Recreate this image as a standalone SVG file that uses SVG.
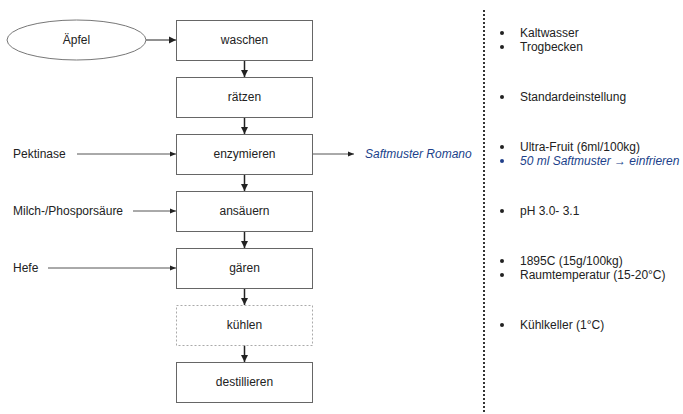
<svg xmlns="http://www.w3.org/2000/svg" width="683" height="414" viewBox="0 0 683 414">
<defs>
<style>
text{font-family:"Liberation Sans",Arial,sans-serif;font-size:12px;fill:#222}
.box{fill:#fff;stroke:#666;stroke-width:1}
.dbox{fill:#fff;stroke:#aaa;stroke-width:1;stroke-dasharray:2,2}
.lbl{text-anchor:middle}
.v{stroke:#222;stroke-width:1.5;fill:none}
.h{stroke:#555;stroke-width:1;fill:none}
.blue{fill:#203f8a;font-style:italic}
</style>
<marker id="av" markerUnits="userSpaceOnUse" markerWidth="8" markerHeight="8" refX="7" refY="4" orient="auto"><path d="M0,0.5 L7,4 L0,7.5 Z" fill="#222"/></marker>
<marker id="ah" markerUnits="userSpaceOnUse" markerWidth="7" markerHeight="6" refX="6" refY="3" orient="auto"><path d="M0,0.5 L6,3 L0,5.5 Z" fill="#222"/></marker>
</defs>
<rect width="683" height="414" fill="#fff"/>
<g id="connectors">
<line class="h" x1="146" y1="40" x2="176" y2="40" marker-end="url(#av)" style="stroke:#222"/>
<line class="v" x1="244.5" y1="60" x2="244.5" y2="77" marker-end="url(#av)"/>
<line class="v" x1="244.5" y1="117" x2="244.5" y2="134" marker-end="url(#av)"/>
<line class="v" x1="244.5" y1="174" x2="244.5" y2="191" marker-end="url(#av)"/>
<line class="v" x1="244.5" y1="231" x2="244.5" y2="248" marker-end="url(#av)"/>
<line class="v" x1="244.5" y1="288" x2="244.5" y2="305" marker-end="url(#av)"/>
<line class="v" x1="244.5" y1="345" x2="244.5" y2="362" marker-end="url(#av)"/>
<line class="h" x1="77" y1="154" x2="176" y2="154" marker-end="url(#ah)"/>
<line class="h" x1="133" y1="211" x2="176" y2="211" marker-end="url(#ah)"/>
<line class="h" x1="48" y1="268" x2="176" y2="268" marker-end="url(#ah)"/>
<line class="h" x1="313" y1="154" x2="354" y2="154" marker-end="url(#ah)"/>
</g>
<g id="aepfel"><ellipse cx="76.5" cy="40" rx="69.5" ry="20" fill="#fff" stroke="#777"/><text class="lbl" x="76.5" y="44">Äpfel</text></g>
<g id="waschen"><rect class="box" x="176.5" y="20.5" width="136" height="40"/><text class="lbl" x="244.5" y="44">waschen</text></g>
<g id="raetzen"><rect class="box" x="176.5" y="77.5" width="136" height="40"/><text class="lbl" x="244.5" y="101">rätzen</text></g>
<g id="enzymieren"><rect class="box" x="176.5" y="134.5" width="136" height="40"/><text class="lbl" x="244.5" y="158">enzymieren</text></g>
<g id="ansaeuern"><rect class="box" x="176.5" y="191.5" width="136" height="40"/><text class="lbl" x="244.5" y="215">ansäuern</text></g>
<g id="gaeren"><rect class="box" x="176.5" y="248.5" width="136" height="40"/><text class="lbl" x="244.5" y="272">gären</text></g>
<g id="kuehlen"><rect class="dbox" x="176.5" y="305.5" width="136" height="40"/><text class="lbl" x="244.5" y="329">kühlen</text></g>
<g id="destillieren"><rect class="box" x="176.5" y="362.5" width="136" height="40"/><text class="lbl" x="244.5" y="386">destillieren</text></g>
<g id="pektinase"><text x="13" y="158">Pektinase</text></g>
<g id="milch"><text x="13" y="215">Milch-/Phosporsäure</text></g>
<g id="hefe"><text x="13" y="272">Hefe</text></g>
<g id="saftmuster"><text class="blue" x="365" y="158">Saftmuster Romano</text></g>
<g id="notes">
<line x1="484" y1="10" x2="484" y2="414" stroke="#333" stroke-width="2" stroke-dasharray="2,2"/>
<g fill="#222">
<circle cx="502" cy="33" r="2"/><circle cx="502" cy="47" r="2"/>
<circle cx="502" cy="97" r="2"/>
<circle cx="502" cy="147" r="2"/><circle cx="502" cy="161" r="2" fill="#203f8a"/>
<circle cx="502" cy="211" r="2"/>
<circle cx="502" cy="261" r="2"/><circle cx="502" cy="275" r="2"/>
<circle cx="502" cy="325" r="2"/>
</g>
<text x="520" y="37">Kaltwasser</text>
<text x="520" y="51">Trogbecken</text>
<text x="520" y="101">Standardeinstellung</text>
<text x="520" y="151">Ultra-Fruit (6ml/100kg)</text>
<text class="blue" x="520" y="165">50 ml Saftmuster → einfrieren</text>
<text x="520" y="215">pH 3.0- 3.1</text>
<text x="520" y="265">1895C (15g/100kg)</text>
<text x="520" y="279">Raumtemperatur (15-20°C)</text>
<text x="520" y="329">Kühlkeller (1°C)</text>
</g>
</svg>
